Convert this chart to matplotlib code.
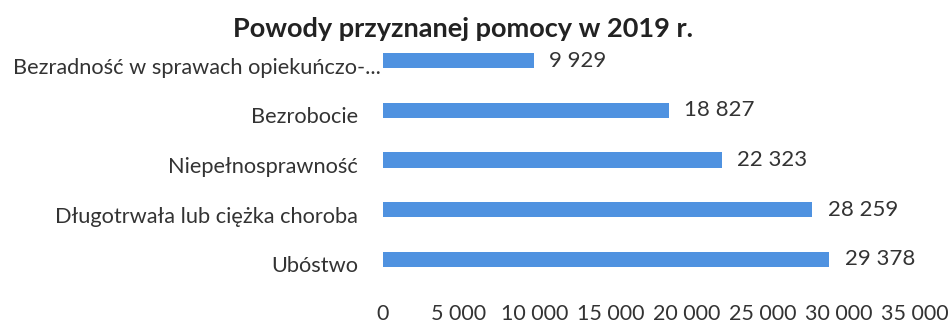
import matplotlib.pyplot as plt
import matplotlib.ticker as ticker
import matplotlib.transforms as mtransforms

plt.rcParams['font.family'] = ['Lato', 'DejaVu Sans']

# Dane
categories = ['Ubóstwo', 'Długotrwała lub ciężka choroba', 'Niepełnosprawność',
              'Bezrobocie', 'Bezradność w sprawach opiekuńczo-...']
values = [29378, 28259, 22323, 18827, 9929]
xticks = [0, 5000, 10000, 15000, 20000, 25000, 30000, 35000]

def fmt(v):
    return f'{v:,}'.replace(',', ' ')

fig = plt.figure(figsize=(9.5, 3.24), dpi=100)
ax = fig.add_axes([0.403, 0.123, 0.560, 0.766])

ax.barh(range(len(categories)), values, height=0.31, color='#4f92e0')

for i, v in enumerate(values):
    ax.text(v + 1000, i, fmt(v), va='center', ha='left', fontsize=16, color='#333333')

# etykiety kategorii (pierwsza dosunięta do słupka, jak w Excelu)
trans = ax.get_yaxis_transform()
for i, c in enumerate(categories):
    dx = -2 if i == len(categories) - 1 else -25
    off = mtransforms.ScaledTranslation(dx / 100, -7 / 100, fig.dpi_scale_trans)
    ax.text(0, i, c, transform=trans + off, ha='right', va='center',
            fontsize=15.7, color='#333333')

ax.set_yticks([])
ax.set_ylim(-0.5, len(categories) - 0.5)
ax.set_xlim(0, 35000)
ax.set_xticks(xticks)
ax.xaxis.set_major_formatter(ticker.FuncFormatter(lambda x, _: fmt(int(x))))
ax.tick_params(axis='x', length=0, pad=14, labelsize=15.5, labelcolor='#333333')
for s in ax.spines.values():
    s.set_visible(False)

fig.text(0.487, 0.912, 'Powody przyznanej pomocy w 2019 r.', ha='center', va='center',
         fontsize=19.5, fontweight='bold', color='#222222')

fig.savefig('out.png', dpi=100)
